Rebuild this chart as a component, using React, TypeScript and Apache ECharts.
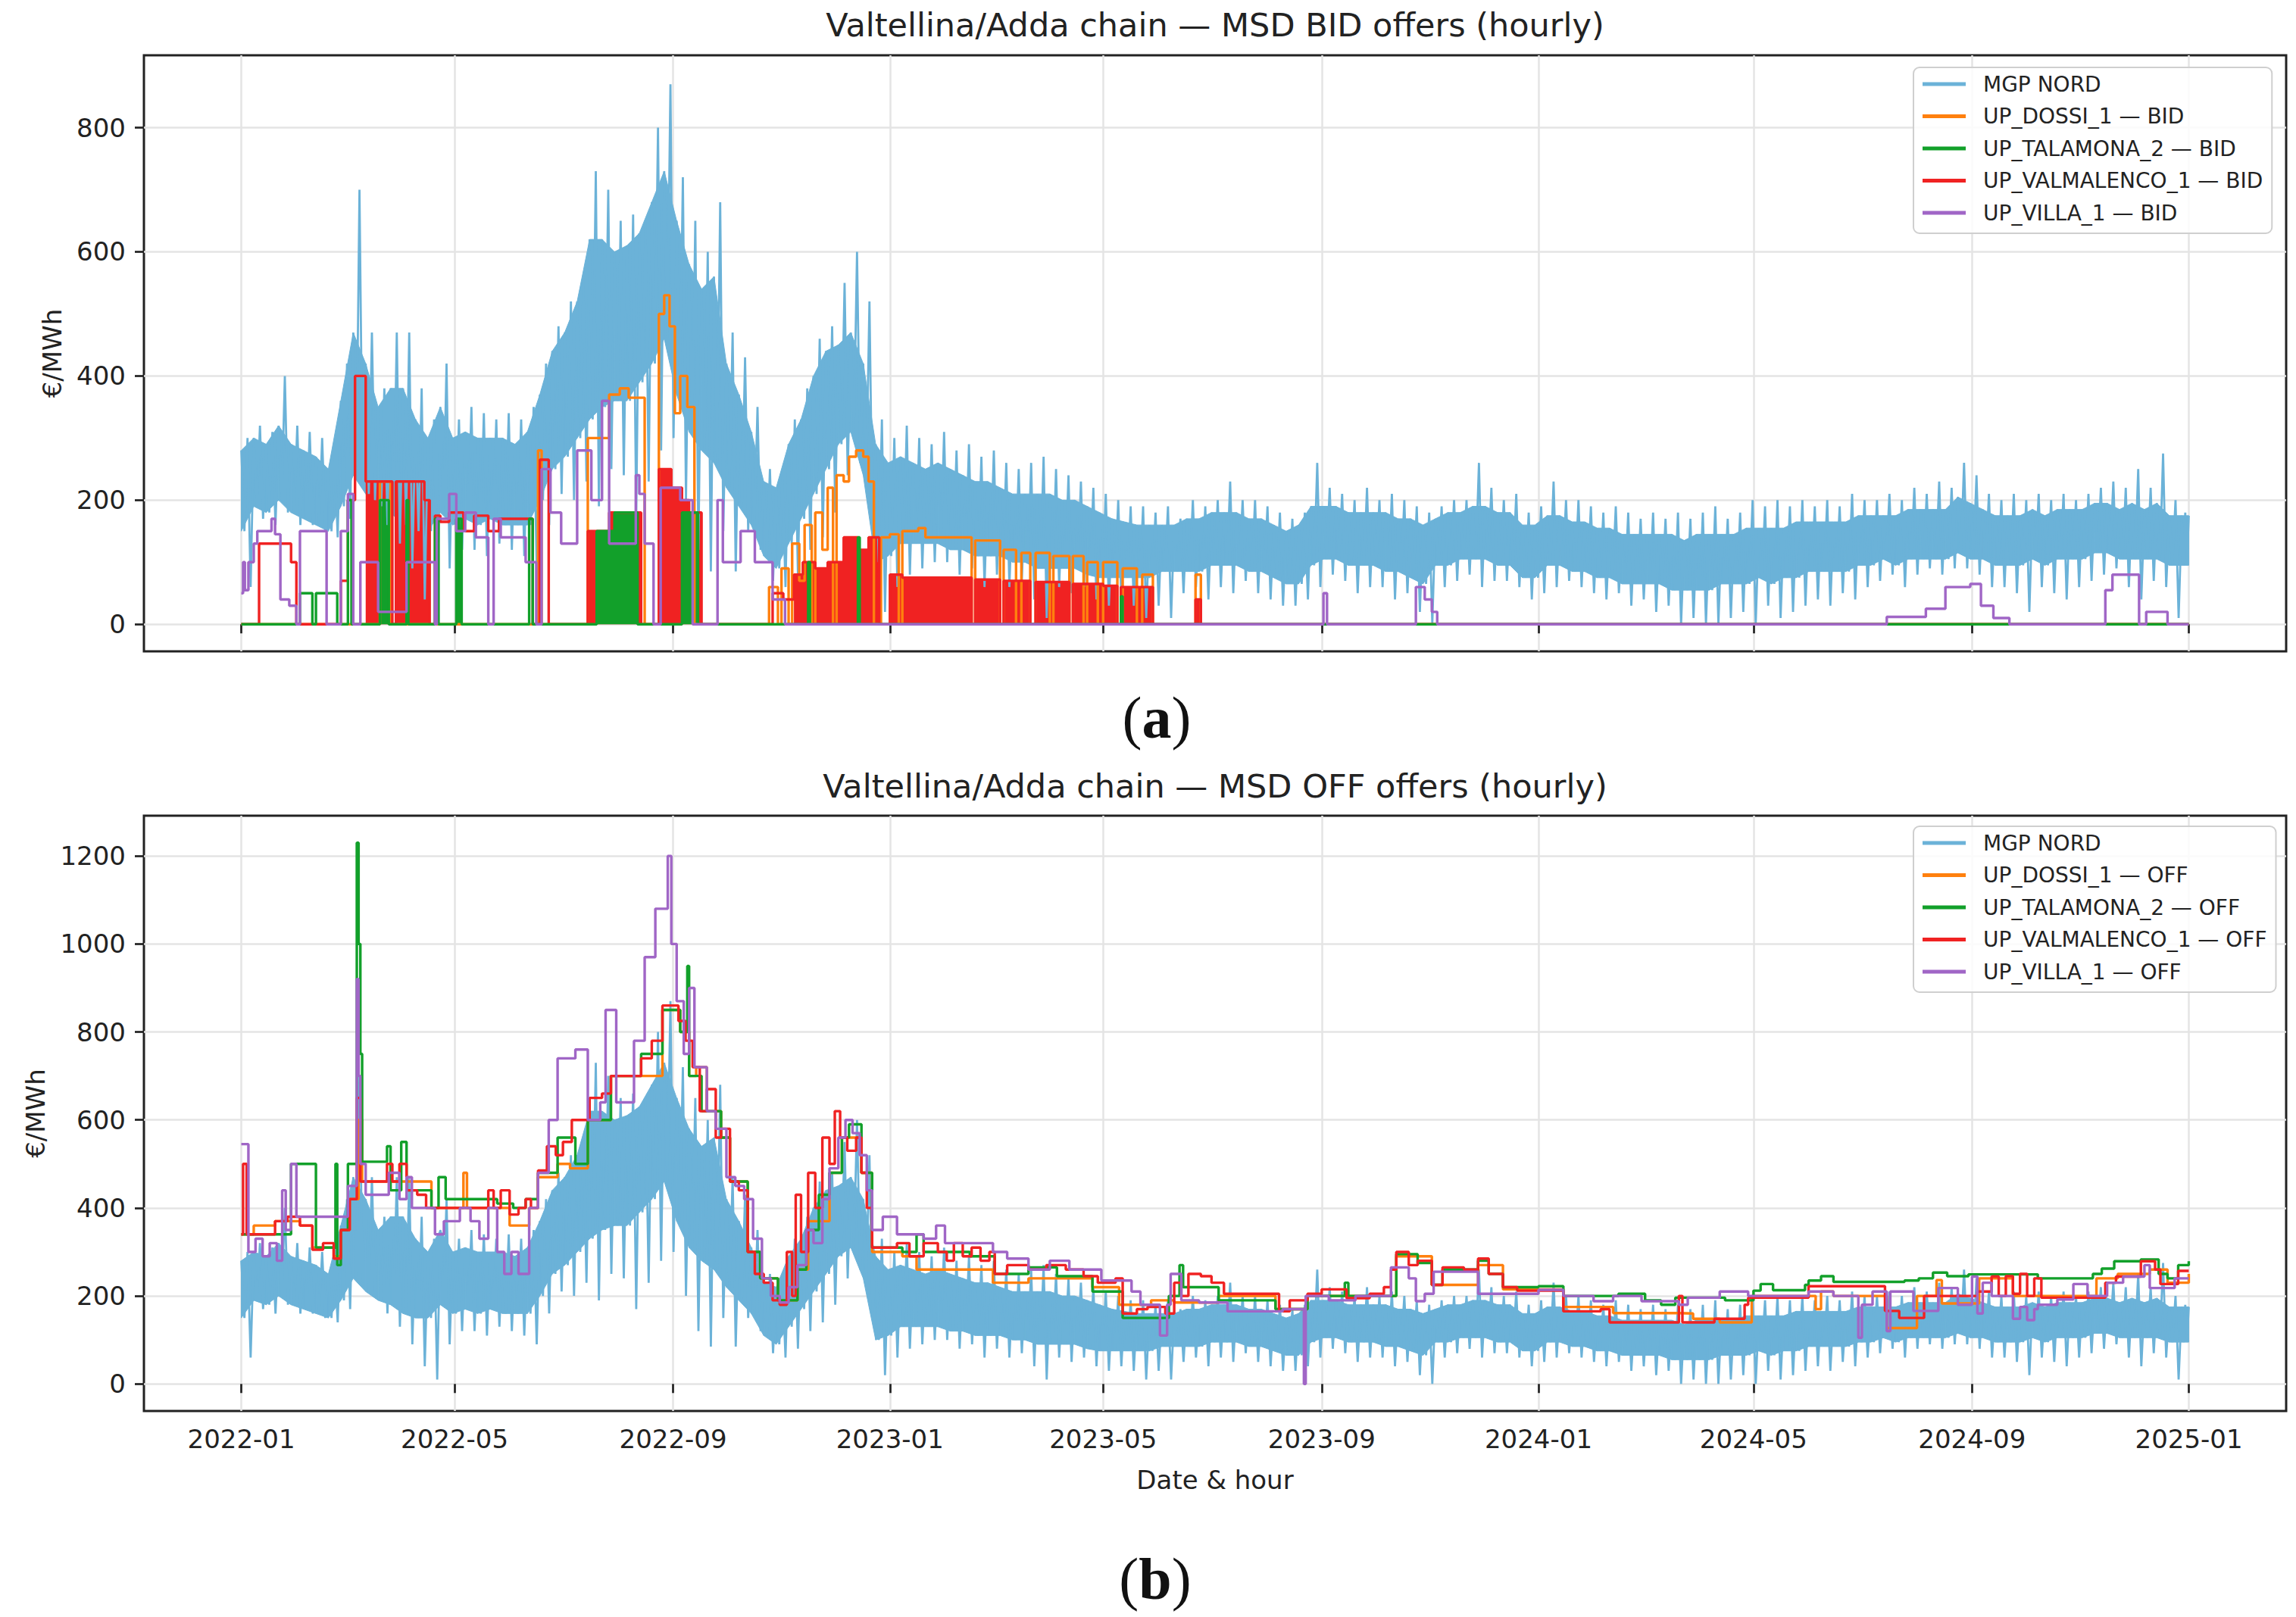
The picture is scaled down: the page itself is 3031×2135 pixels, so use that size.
import React, { useEffect, useRef } from 'react';
import * as echarts from 'echarts';

const DAY = 86400000;
const ts = (s: string) => Date.parse(s + 'T00:00:00Z');
const START = ts('2022-01-01');
const END = ts('2024-12-31') + 23 * 3600000;
const PAD = 54.8 * DAY;

// ---- tick labels ----
const xTickLabels = ['2022-01', '2022-05', '2022-09', '2023-01', '2023-05', '2023-09', '2024-01', '2024-05', '2024-09', '2025-01'];
const yTicksA = [0, 200, 400, 600, 800];
const yTicksB = [0, 200, 400, 600, 800, 1000, 1200];

// ---- MGP NORD, weekly readings starting 2022-01-01 (upper spikes, dense-band high, dense-band low, lower dips) ----
const mgpTop = [
  300, 320, 310, 400, 320, 310, 300, 270, 420, 700, 470, 380, 470, 470, 380, 330, 420, 330, 350, 340,
  330, 340, 330, 350, 420, 480, 520, 560, 730, 700, 650, 660, 650, 800, 870, 720, 650, 600, 680, 470,
  430, 350, 250, 240, 330, 380, 460, 480, 550, 600, 520, 330, 300,
  320, 300, 290, 310, 280, 290, 270, 280, 260, 250, 260, 270, 250, 240, 230, 220, 210, 200, 190, 190,
  180, 190, 170, 200, 190, 200, 230, 200, 200, 190, 180, 170, 180, 260, 220, 210, 200, 220, 200, 210,
  200, 190, 180, 190, 200, 200, 260, 220, 200, 210, 180, 190,
  230, 200, 200, 190, 180, 190, 180, 170, 180, 170, 180, 170, 180, 190, 170, 180, 200, 190, 200, 190,
  200, 190, 200, 190, 210, 200, 200, 210, 200, 220, 210, 230, 220, 260, 240, 210, 200, 210, 200, 210,
  200, 210, 200, 210, 220, 230, 220, 250, 220, 275, 200, 180,
];
const mgpHi = [
  280, 300, 290, 320, 290, 280, 270, 250, 360, 470, 420, 350, 380, 380, 330, 300, 350, 300, 310, 300,
  300, 300, 290, 310, 370, 440, 470, 520, 620, 620, 600, 610, 630, 680, 730, 650, 580, 540, 560, 420,
  370, 310, 230, 220, 290, 330, 400, 440, 450, 470, 420, 290, 260,
  270, 260, 250, 260, 250, 240, 230, 230, 220, 210, 210, 210, 210, 200, 200, 190, 180, 170, 165, 160,
  160, 160, 160, 170, 170, 180, 180, 180, 170, 170, 160, 150, 160, 190, 190, 190, 180, 180, 180, 180,
  170, 170, 160, 170, 180, 180, 190, 190, 180, 180, 160, 160,
  175, 175, 165, 165, 155, 155, 145, 145, 145, 145, 145, 135, 145, 145, 145, 145, 155, 155, 155, 155,
  165, 165, 165, 165, 165, 175, 175, 175, 175, 185, 185, 185, 185, 205, 195, 185, 175, 175, 175, 185,
  175, 185, 185, 185, 195, 195, 185, 195, 185, 195, 175, 175,
];
const mgpLo = [
  150, 190, 180, 200, 180, 170, 160, 150, 190, 240, 210, 190, 180, 160, 150, 150, 180, 160, 170, 160,
  170, 160, 160, 160, 200, 250, 270, 300, 330, 350, 360, 360, 390, 420, 460, 370, 310, 280, 260, 220,
  190, 160, 110, 90, 130, 170, 210, 250, 290, 310, 240, 100, 110,
  130, 130, 130, 130, 120, 120, 110, 110, 110, 100, 100, 90, 90, 90, 90, 80, 75, 75, 75, 75,
  75, 85, 85, 85, 85, 95, 95, 95, 85, 85, 75, 65, 65, 95, 105, 105, 95, 95, 95, 85,
  85, 75, 65, 95, 95, 105, 105, 105, 95, 95, 75, 75,
  95, 95, 85, 85, 75, 75, 65, 65, 65, 65, 55, 55, 55, 55, 65, 65, 65, 75, 65, 75,
  75, 85, 85, 85, 85, 95, 95, 105, 95, 105, 105, 105, 105, 115, 105, 105, 95, 95, 95, 105,
  95, 105, 105, 105, 115, 115, 105, 105, 105, 105, 95, 95,
];
const mgpBot = [
  60, 170, 160, 180, 160, 160, 150, 140, 170, 230, 200, 160, 130, 90, 40, 10, 90, 120, 120, 110,
  130, 120, 110, 90, 160, 210, 200, 230, 190, 250, 240, 170, 230, 280, 300, 200, 120, 85, 150, 85,
  150, 120, 70, 60, 80, 120, 140, 180, 240, 260, 150, 20, 60,
  80, 90, 100, 100, 80, 90, 60, 80, 60, 70, 40, 10, 60, 50, 60, 40, 30, 40, 30, 10,
  30, 10, 50, 60, 40, 60, 50, 70, 50, 40, 30, 30, 40, 60, 80, 70, 50, 60, 60, 40,
  50, 20, 0, 60, 70, 80, 60, 70, 70, 60, 40, 50,
  60, 70, 60, 50, 40, 50, 30, 40, 20, 30, 0, 10, 0, 0, 10, 20, 0, 30, 10, 20,
  30, 40, 30, 50, 40, 60, 70, 80, 60, 80, 90, 80, 90, 90, 80, 60, 60, 50, 20, 60,
  50, 40, 60, 70, 80, 90, 60, 40, 70, 60, 10, 100,
];

// ---- (a) BID offers: step change points [date, €/MWh] ----
const dossiBid: [string, number][] = [
  ['2022-01-01', 0], ['2022-03-20', 230], ['2022-03-26', 0], ['2022-06-17', 280], ['2022-06-19', 0],
  ['2022-07-15', 300], ['2022-07-27', 370], ['2022-08-02', 380], ['2022-08-07', 365], ['2022-08-16', 0],
  ['2022-08-24', 500], ['2022-08-27', 530], ['2022-08-30', 480], ['2022-09-02', 340], ['2022-09-05', 400],
  ['2022-09-09', 350], ['2022-09-13', 0],
  ['2022-10-25', 60], ['2022-10-30', 0], ['2022-11-01', 90], ['2022-11-05', 0], ['2022-11-07', 130],
  ['2022-11-11', 70], ['2022-11-14', 160], ['2022-11-18', 0], ['2022-11-20', 180], ['2022-11-24', 120],
  ['2022-11-27', 220], ['2022-11-30', 0], ['2022-12-02', 240], ['2022-12-06', 230], ['2022-12-09', 270],
  ['2022-12-13', 280], ['2022-12-17', 270], ['2022-12-20', 230], ['2022-12-23', 0], ['2022-12-27', 140],
  ['2023-01-01', 145], ['2023-01-06', 0], ['2023-01-08', 150], ['2023-01-17', 155], ['2023-01-21', 140],
  ['2023-02-16', 0], ['2023-02-18', 135], ['2023-03-04', 0], ['2023-03-06', 120], ['2023-03-13', 0],
  ['2023-03-16', 115], ['2023-03-21', 0], ['2023-03-24', 115], ['2023-04-01', 0], ['2023-04-03', 110],
  ['2023-04-12', 0], ['2023-04-14', 110], ['2023-04-20', 0], ['2023-04-22', 100], ['2023-04-28', 0],
  ['2023-05-01', 100], ['2023-05-09', 0], ['2023-05-12', 90], ['2023-05-20', 0], ['2023-05-23', 80],
  ['2023-05-29', 0], ['2023-06-22', 80], ['2023-06-25', 0], ['2024-12-31', 0],
];
const talaBid: [string, number][] = [
  ['2022-01-01', 0], ['2022-02-03', 50], ['2022-02-10', 0], ['2022-02-12', 50], ['2022-02-24', 0],
  ['2022-03-02', 200], ['2022-03-04', 0], ['2022-03-20', 200], ['2022-03-25', 0], ['2022-04-04', 200],
  ['2022-04-05', 0], ['2022-04-20', 170], ['2022-04-22', 0], ['2022-05-02', 170], ['2022-05-05', 0],
  ['2022-06-12', 170], ['2022-06-14', 0], ['2022-07-20', 150], ['2022-07-30', 180], ['2022-08-12', 0],
  ['2022-09-06', 180], ['2022-09-15', 0], ['2022-11-16', 100], ['2022-11-17', 0], ['2022-12-14', 140],
  ['2022-12-15', 0], ['2023-05-11', 45], ['2023-05-12', 0], ['2024-12-31', 0],
];
const talaBidFill: [string, string][] = [
  ['2022-03-20', '2022-03-25'], ['2022-05-02', '2022-05-05'], ['2022-07-20', '2022-08-12'], ['2022-09-06', '2022-09-15'],
];
const valmBid: [string, number][] = [
  ['2022-01-01', 0], ['2022-01-11', 130], ['2022-01-29', 100], ['2022-02-01', 0], ['2022-02-26', 70],
  ['2022-03-02', 200], ['2022-03-06', 400], ['2022-03-12', 230], ['2022-03-27', 0], ['2022-03-29', 230],
  ['2022-04-14', 200], ['2022-04-17', 0], ['2022-04-20', 175], ['2022-04-23', 165], ['2022-04-28', 180],
  ['2022-05-06', 150], ['2022-05-12', 175], ['2022-05-20', 150], ['2022-05-26', 170], ['2022-06-14', 0],
  ['2022-06-18', 265], ['2022-06-23', 0], ['2022-07-15', 150], ['2022-07-27', 180], ['2022-08-14', 0],
  ['2022-08-24', 250], ['2022-08-31', 220], ['2022-09-06', 200], ['2022-09-10', 180], ['2022-09-17', 0],
  ['2022-10-27', 50], ['2022-11-02', 40], ['2022-11-08', 80], ['2022-11-13', 100], ['2022-11-20', 90],
  ['2022-11-27', 100], ['2022-12-06', 140], ['2022-12-14', 120], ['2022-12-20', 140], ['2022-12-26', 0],
  ['2023-01-01', 80], ['2023-01-08', 75], ['2023-02-16', 0], ['2023-02-18', 72], ['2023-03-04', 0],
  ['2023-03-06', 70], ['2023-03-21', 0], ['2023-03-24', 68], ['2023-04-12', 0], ['2023-04-14', 65],
  ['2023-05-01', 62], ['2023-05-09', 0], ['2023-05-11', 60], ['2023-05-29', 0], ['2023-06-22', 40],
  ['2023-06-25', 0], ['2024-12-31', 0],
];
const valmBidFill: [string, string][] = [
  ['2022-03-12', '2022-04-17'], ['2022-07-15', '2022-08-14'], ['2022-08-24', '2022-09-17'],
  ['2022-11-08', '2022-12-26'], ['2023-01-01', '2023-05-29'], ['2023-06-22', '2023-06-25'],
];
const villaBid: [string, number][] = [
  ['2022-01-01', 50], ['2022-01-02', 100], ['2022-01-03', 55], ['2022-01-05', 100], ['2022-01-08', 130],
  ['2022-01-10', 150], ['2022-01-18', 170], ['2022-01-20', 145], ['2022-01-23', 40], ['2022-01-28', 30],
  ['2022-02-01', 0], ['2022-02-03', 150], ['2022-02-18', 0], ['2022-02-26', 150], ['2022-03-02', 210],
  ['2022-03-05', 0], ['2022-03-09', 100], ['2022-03-19', 20], ['2022-04-04', 100], ['2022-04-20', 0],
  ['2022-04-21', 170], ['2022-04-28', 210], ['2022-05-02', 150], ['2022-05-07', 180], ['2022-05-13', 140],
  ['2022-05-20', 0], ['2022-05-23', 170], ['2022-05-27', 140], ['2022-06-10', 100], ['2022-06-16', 0],
  ['2022-06-19', 250], ['2022-06-24', 180], ['2022-06-30', 130], ['2022-07-09', 280], ['2022-07-17', 200],
  ['2022-07-23', 360], ['2022-07-27', 130], ['2022-08-11', 240], ['2022-08-13', 210], ['2022-08-16', 130],
  ['2022-08-21', 0], ['2022-08-25', 220], ['2022-09-05', 200], ['2022-09-12', 0], ['2022-09-26', 200],
  ['2022-09-29', 100], ['2022-10-09', 150], ['2022-10-17', 100], ['2022-10-27', 40], ['2022-11-03', 0],
  ['2023-09-02', 50], ['2023-09-04', 0], ['2023-10-24', 60], ['2023-10-29', 40], ['2023-11-02', 20],
  ['2023-11-05', 0], ['2024-07-15', 12], ['2024-08-06', 25], ['2024-08-17', 60], ['2024-08-31', 65],
  ['2024-09-06', 30], ['2024-09-13', 10], ['2024-09-22', 0], ['2024-11-15', 55], ['2024-11-19', 80],
  ['2024-12-04', 0], ['2024-12-08', 20], ['2024-12-20', 0], ['2024-12-31', 0],
];

// ---- (b) OFF offers ----
const dossiOff: [string, number][] = [
  ['2022-01-01', 340], ['2022-01-08', 360], ['2022-01-20', 370], ['2022-02-03', 360], ['2022-02-10', 310],
  ['2022-02-22', 290], ['2022-02-26', 350], ['2022-03-03', 420], ['2022-03-08', 600], ['2022-03-10', 460],
  ['2022-04-18', 400], ['2022-05-06', 480], ['2022-05-08', 400], ['2022-06-01', 360], ['2022-06-12', 400],
  ['2022-06-17', 470], ['2022-06-28', 500], ['2022-07-05', 490], ['2022-07-15', 600], ['2022-07-28', 700],
  ['2022-08-26', 850], ['2022-09-05', 800], ['2022-09-10', 700], ['2022-09-14', 720], ['2022-09-20', 620],
  ['2022-09-28', 560], ['2022-10-03', 460], ['2022-10-13', 300], ['2022-10-20', 240], ['2022-10-30', 190],
  ['2022-11-10', 260], ['2022-11-16', 370], ['2022-11-28', 480], ['2022-12-05', 560], ['2022-12-16', 480],
  ['2022-12-22', 300], ['2023-01-08', 290], ['2023-01-16', 260], ['2023-02-28', 230], ['2023-03-20', 240],
  ['2023-04-25', 220], ['2023-05-10', 180], ['2023-05-28', 190], ['2023-06-10', 185], ['2023-07-05', 200],
  ['2023-08-06', 170], ['2023-08-24', 200], ['2023-09-20', 200], ['2023-10-13', 290], ['2023-11-02', 225],
  ['2023-11-28', 270], ['2023-12-12', 215], ['2024-01-15', 175], ['2024-02-12', 161], ['2024-03-20', 160],
  ['2024-03-28', 148], ['2024-04-12', 140], ['2024-04-30', 200], ['2024-06-05', 170], ['2024-06-08', 210],
  ['2024-06-15', 200], ['2024-07-15', 127], ['2024-08-01', 200], ['2024-08-12', 236], ['2024-08-15', 183],
  ['2024-09-05', 240], ['2024-09-24', 200], ['2024-11-10', 240], ['2024-11-22', 250], ['2024-12-10', 260],
  ['2024-12-20', 230], ['2024-12-31', 250],
];
const talaOff: [string, number][] = [
  ['2022-01-01', 340], ['2022-01-29', 500], ['2022-02-12', 310], ['2022-02-23', 500], ['2022-02-24', 270],
  ['2022-02-26', 350], ['2022-03-02', 500], ['2022-03-07', 1230], ['2022-03-08', 1000], ['2022-03-09', 750],
  ['2022-03-10', 505], ['2022-03-24', 540], ['2022-03-26', 440], ['2022-04-01', 550], ['2022-04-04', 440],
  ['2022-04-18', 400], ['2022-04-22', 470], ['2022-04-26', 420], ['2022-05-25', 410], ['2022-06-03', 400],
  ['2022-06-10', 420], ['2022-06-17', 480], ['2022-06-28', 560], ['2022-07-08', 500], ['2022-07-15', 600],
  ['2022-07-28', 700], ['2022-08-14', 750], ['2022-08-26', 850], ['2022-09-05', 800], ['2022-09-09', 950],
  ['2022-09-10', 700], ['2022-09-17', 620], ['2022-09-28', 560], ['2022-10-03', 460], ['2022-10-13', 300],
  ['2022-10-20', 240], ['2022-10-30', 190], ['2022-11-10', 260], ['2022-11-15', 350], ['2022-11-22', 430],
  ['2022-11-28', 480], ['2022-12-05', 560], ['2022-12-09', 590], ['2022-12-16', 480], ['2022-12-22', 310],
  ['2023-01-08', 300], ['2023-01-16', 340], ['2023-01-20', 300], ['2023-02-15', 290], ['2023-03-01', 250],
  ['2023-03-20', 265], ['2023-04-05', 245], ['2023-04-25', 210], ['2023-05-12', 150], ['2023-06-07', 200],
  ['2023-06-13', 270], ['2023-06-15', 220], ['2023-07-05', 190], ['2023-08-06', 170], ['2023-08-24', 200],
  ['2023-09-14', 230], ['2023-09-16', 200], ['2023-10-13', 295], ['2023-10-25', 275], ['2023-11-02', 225],
  ['2023-11-08', 260], ['2023-11-28', 280], ['2023-12-04', 250], ['2023-12-12', 220], ['2024-01-01', 222],
  ['2024-01-15', 200], ['2024-02-15', 205], ['2024-03-01', 190], ['2024-03-10', 180], ['2024-03-18', 196],
  ['2024-04-15', 190], ['2024-05-01', 212], ['2024-05-05', 227], ['2024-05-12', 213], ['2024-05-30', 225],
  ['2024-06-01', 235], ['2024-06-08', 245], ['2024-06-15', 232], ['2024-07-25', 235], ['2024-08-02', 240],
  ['2024-08-10', 253], ['2024-08-18', 245], ['2024-08-30', 249], ['2024-10-08', 240], ['2024-11-08', 250],
  ['2024-11-13', 262], ['2024-11-20', 279], ['2024-12-05', 283], ['2024-12-15', 250], ['2024-12-20', 240],
  ['2024-12-26', 270], ['2024-12-31', 279],
];
const valmOff: [string, number][] = [
  ['2022-01-01', 340], ['2022-01-02', 500], ['2022-01-04', 340], ['2022-01-20', 370], ['2022-01-27', 380],
  ['2022-02-03', 360], ['2022-02-10', 305], ['2022-02-16', 320], ['2022-02-22', 285], ['2022-02-26', 350],
  ['2022-03-03', 420], ['2022-03-07', 650], ['2022-03-09', 460], ['2022-03-24', 500], ['2022-03-27', 460],
  ['2022-03-31', 500], ['2022-04-04', 440], ['2022-04-10', 430], ['2022-04-15', 400], ['2022-05-20', 440],
  ['2022-05-23', 400], ['2022-05-27', 440], ['2022-06-01', 385], ['2022-06-06', 400], ['2022-06-10', 420],
  ['2022-06-13', 400], ['2022-06-17', 485], ['2022-06-22', 540], ['2022-06-27', 520], ['2022-07-01', 550],
  ['2022-07-06', 600], ['2022-07-16', 650], ['2022-07-23', 660], ['2022-07-28', 700], ['2022-08-08', 700],
  ['2022-08-14', 740], ['2022-08-20', 780], ['2022-08-26', 860], ['2022-09-01', 860], ['2022-09-04', 825],
  ['2022-09-08', 780], ['2022-09-12', 720], ['2022-09-16', 620], ['2022-09-20', 670], ['2022-09-25', 560],
  ['2022-09-28', 580], ['2022-10-03', 460], ['2022-10-08', 440], ['2022-10-13', 300], ['2022-10-17', 250],
  ['2022-10-22', 230], ['2022-10-27', 190], ['2022-10-31', 180], ['2022-11-04', 300], ['2022-11-07', 200],
  ['2022-11-09', 430], ['2022-11-12', 300], ['2022-11-16', 480], ['2022-11-20', 400], ['2022-11-24', 560],
  ['2022-11-28', 500], ['2022-12-01', 620], ['2022-12-04', 560], ['2022-12-08', 530], ['2022-12-13', 560],
  ['2022-12-16', 480], ['2022-12-19', 400], ['2022-12-22', 310], ['2023-01-05', 320], ['2023-01-12', 290],
  ['2023-01-20', 320], ['2023-01-28', 300], ['2023-02-02', 280], ['2023-02-06', 320], ['2023-02-11', 290],
  ['2023-02-16', 310], ['2023-02-21', 280], ['2023-02-26', 300], ['2023-03-01', 250], ['2023-03-08', 270],
  ['2023-03-20', 260], ['2023-03-30', 270], ['2023-04-10', 260], ['2023-04-20', 245], ['2023-04-28', 230],
  ['2023-05-08', 240], ['2023-05-12', 160], ['2023-05-20', 170], ['2023-05-26', 175], ['2023-06-05', 160],
  ['2023-06-10', 230], ['2023-06-14', 200], ['2023-06-18', 250], ['2023-06-25', 245], ['2023-07-01', 230],
  ['2023-07-08', 205], ['2023-08-08', 165], ['2023-08-14', 190], ['2023-08-24', 205], ['2023-09-01', 215],
  ['2023-09-15', 195], ['2023-09-28', 205], ['2023-10-06', 220], ['2023-10-10', 260], ['2023-10-13', 300],
  ['2023-10-20', 270], ['2023-10-25', 280], ['2023-11-02', 225], ['2023-11-08', 265], ['2023-11-20', 260],
  ['2023-11-28', 285], ['2023-12-04', 250], ['2023-12-12', 220], ['2023-12-20', 212], ['2024-01-15', 165],
  ['2024-02-05', 170], ['2024-02-10', 140], ['2024-03-20', 200], ['2024-03-22', 140], ['2024-04-09', 148],
  ['2024-04-26', 180], ['2024-04-28', 196], ['2024-06-01', 222], ['2024-07-14', 166], ['2024-07-22', 150],
  ['2024-08-05', 200], ['2024-09-04', 210], ['2024-09-12', 244], ['2024-09-16', 200], ['2024-09-20', 245],
  ['2024-09-24', 205], ['2024-09-28', 250], ['2024-10-02', 200], ['2024-10-06', 240], ['2024-10-10', 196],
  ['2024-11-15', 230], ['2024-11-21', 244], ['2024-12-05', 279], ['2024-12-13', 260], ['2024-12-16', 227],
  ['2024-12-26', 257], ['2024-12-31', 257],
];
const villaOff: [string, number][] = [
  ['2022-01-01', 545], ['2022-01-05', 300], ['2022-01-09', 330], ['2022-01-13', 290], ['2022-01-17', 320],
  ['2022-01-21', 280], ['2022-01-24', 440], ['2022-01-26', 350], ['2022-01-29', 500], ['2022-02-01', 380],
  ['2022-03-02', 450], ['2022-03-07', 920], ['2022-03-08', 700], ['2022-03-09', 500], ['2022-03-12', 430],
  ['2022-03-25', 480], ['2022-03-31', 420], ['2022-04-04', 470], ['2022-04-07', 400], ['2022-04-20', 340],
  ['2022-04-25', 370], ['2022-05-04', 400], ['2022-05-10', 370], ['2022-05-15', 330], ['2022-05-20', 400],
  ['2022-05-25', 300], ['2022-05-29', 250], ['2022-06-02', 300], ['2022-06-06', 250], ['2022-06-12', 400],
  ['2022-06-17', 480], ['2022-06-23', 600], ['2022-06-28', 740], ['2022-07-08', 760], ['2022-07-15', 600],
  ['2022-07-22', 640], ['2022-07-25', 850], ['2022-07-31', 640], ['2022-08-10', 780], ['2022-08-16', 970],
  ['2022-08-22', 1080], ['2022-08-29', 1200], ['2022-08-31', 1000], ['2022-09-03', 870], ['2022-09-07', 750],
  ['2022-09-10', 900], ['2022-09-13', 720], ['2022-09-20', 620], ['2022-09-25', 580], ['2022-10-01', 470],
  ['2022-10-06', 450], ['2022-10-11', 420], ['2022-10-16', 330], ['2022-10-21', 240], ['2022-10-26', 200],
  ['2022-10-31', 185], ['2022-11-05', 220], ['2022-11-10', 270], ['2022-11-15', 350], ['2022-11-19', 320],
  ['2022-11-24', 420], ['2022-11-28', 490], ['2022-12-03', 560], ['2022-12-07', 600], ['2022-12-11', 570],
  ['2022-12-15', 520], ['2022-12-19', 440], ['2022-12-22', 350], ['2022-12-28', 380], ['2023-01-05', 340],
  ['2023-01-20', 330], ['2023-01-27', 360], ['2023-02-01', 320], ['2023-02-28', 300], ['2023-03-08', 285],
  ['2023-03-20', 260], ['2023-04-01', 280], ['2023-04-12', 260], ['2023-04-30', 235], ['2023-05-17', 210],
  ['2023-05-22', 180], ['2023-06-02', 110], ['2023-06-06', 180], ['2023-06-08', 250], ['2023-06-14', 190],
  ['2023-06-24', 185], ['2023-07-10', 165], ['2023-08-10', 170], ['2023-08-22', 0], ['2023-08-23', 200],
  ['2023-09-05', 190], ['2023-09-20', 200], ['2023-10-10', 265], ['2023-10-20', 240], ['2023-10-24', 188],
  ['2023-10-29', 205], ['2023-11-03', 255], ['2023-11-28', 205], ['2024-01-01', 214], ['2024-01-15', 200],
  ['2024-02-01', 188], ['2024-02-12', 200], ['2024-02-28', 188], ['2024-03-20', 180], ['2024-03-25', 196],
  ['2024-04-12', 210], ['2024-04-28', 200], ['2024-06-01', 210], ['2024-06-15', 200], ['2024-06-29', 105],
  ['2024-07-01', 180], ['2024-07-07', 210], ['2024-07-15', 120], ['2024-07-17', 210], ['2024-07-30', 166],
  ['2024-08-13', 218], ['2024-08-24', 180], ['2024-09-01', 244], ['2024-09-04', 160], ['2024-09-07', 230],
  ['2024-09-12', 200], ['2024-09-24', 148], ['2024-09-28', 175], ['2024-10-02', 145], ['2024-10-06', 170],
  ['2024-10-08', 180], ['2024-10-19', 192], ['2024-10-28', 227], ['2024-11-05', 200], ['2024-11-16', 230],
  ['2024-11-25', 244], ['2024-12-07', 270], ['2024-12-10', 218], ['2024-12-24', 240], ['2024-12-31', 240],
];

// ---- names & colours ----
const MGP = 'MGP NORD';
const unitsA = ['UP_DOSSI_1 — BID', 'UP_TALAMONA_2 — BID', 'UP_VALMALENCO_1 — BID', 'UP_VILLA_1 — BID'];
const unitsB = ['UP_DOSSI_1 — OFF', 'UP_TALAMONA_2 — OFF', 'UP_VALMALENCO_1 — OFF', 'UP_VILLA_1 — OFF'];
const C_MGP = '#6bb2d8';
const C_ORANGE = '#ff800e';
const C_GREEN = '#12a02a';
const C_RED = '#f02222';
const C_PURPLE = '#a066c6';

const FONT = 'DejaVu Sans';
const INK = '#222222';

function toPts(p: [string, number][]) {
  return p.map(([d, v]) => [d === '2024-12-31' ? END : ts(d), v]);
}
function valueAt(p: [string, number][], t: number) {
  let v = 0;
  for (const [d, y] of p) { if (ts(d) <= t) v = y; }
  return v;
}
function fillFrom(p: [string, number][], spans: [string, string][]) {
  const out: any[] = [[START, 0]];
  for (const [a, b] of spans) {
    const ta = ts(a), tb = ts(b);
    out.push([ta, valueAt(p, ta)]);
    for (const [d, y] of p) { const t = ts(d); if (t > ta && t < tb) out.push([t, y]); }
    out.push([tb, 0]);
  }
  out.push([END, 0]);
  return out;
}
function mgpZigzag() {
  const out: any[] = [];
  for (let k = 0; k < mgpTop.length; k++) {
    const t0 = START + 7 * k * DAY;
    const q = Math.min(7 * DAY, END - t0) / 4;
    out.push([t0, mgpHi[k]], [t0 + q, mgpLo[k]], [t0 + 2 * q, mgpTop[k]], [t0 + 3 * q, mgpBot[k]]);
  }
  out.push([END, mgpHi[mgpHi.length - 1]]);
  return out;
}
function bandData() {
  const out: any[] = mgpHi.map((h, k) => [START + 7 * k * DAY, mgpLo[k], h]);
  out.push([END, mgpLo[mgpLo.length - 1], mgpHi[mgpHi.length - 1]]);
  return out;
}
const tickTs = xTickLabels.map((s) => ts(s + '-01'));
const fmtMonth = (v: number) => {
  const d = new Date(v);
  return d.getUTCFullYear() + '-' + String(d.getUTCMonth() + 1).padStart(2, '0');
};

function lineSeries(name: string, data: any[], color: string, gi: number, width: number, extra: any = {}) {
  return {
    type: 'line', name, data, xAxisIndex: gi, yAxisIndex: gi, step: 'end', symbol: 'none', showSymbol: false,
    silent: true, color, itemStyle: { color }, lineStyle: { color, width }, ...extra,
  };
}
function mgpSeries(gi: number) {
  const band = bandData();
  return [
    {
      type: 'custom', name: 'mgp-band-' + gi, xAxisIndex: gi, yAxisIndex: gi, silent: true, clip: true,
      data: band, encode: { x: 0, y: [1, 2] },
      renderItem: (params: any, api: any) => {
        const i = params.dataIndex;
        if (i >= band.length - 1) return null;
        const a = band[i], b = band[i + 1];
        const pts = [api.coord([a[0], a[1]]), api.coord([a[0], a[2]]), api.coord([b[0], b[2]]), api.coord([b[0], b[1]])];
        return { type: 'polygon', shape: { points: pts }, style: { fill: C_MGP, stroke: C_MGP, lineWidth: 1 } };
      },
    },
    { type: 'line', name: MGP, data: mgpZigzag(), xAxisIndex: gi, yAxisIndex: gi, symbol: 'none', showSymbol: false,
      silent: true, color: C_MGP, itemStyle: { color: C_MGP }, lineStyle: { color: C_MGP, width: 2.8 } },
  ];
}

function xAxisCfg(gi: number) {
  return {
    type: 'value', gridIndex: gi, min: START - PAD, max: END + PAD, scale: true,
    axisLine: { show: false },
    axisTick: { show: true, length: 12, inside: false, lineStyle: { color: INK, width: 2.7 }, customValues: tickTs },
    axisLabel: { show: gi === 1, customValues: tickTs, formatter: fmtMonth, fontSize: 34, color: INK, fontFamily: FONT, margin: 20, hideOverlap: false },
    splitLine: { show: true, lineStyle: { color: '#e4e4e4', width: 2.5 } },
    name: gi === 1 ? 'Date & hour' : '', nameLocation: 'middle', nameGap: 74,
    nameTextStyle: { fontSize: 34, color: INK, fontFamily: FONT },
  };
}
function yAxisCfg(gi: number, min: number, max: number, ticks: number[], gap: number) {
  return {
    type: 'value', gridIndex: gi, min, max,
    axisLine: { show: false },
    axisTick: { show: true, length: 12, lineStyle: { color: INK, width: 2.7 }, customValues: ticks },
    axisLabel: { customValues: ticks, formatter: (v: number) => String(v), fontSize: 34, color: INK, fontFamily: FONT, margin: 24 },
    splitLine: { show: true, lineStyle: { color: '#e4e4e4', width: 2.5 } },
    name: '€/MWh', nameLocation: 'middle', nameGap: gap, nameRotate: 90,
    nameTextStyle: { fontSize: 34, color: INK, fontFamily: FONT },
  };
}
function legendCfg(top: number, names: string[]) {
  return {
    orient: 'vertical', left: 2526, top, data: names, icon: 'rect', itemWidth: 57, itemHeight: 5, itemGap: 8.5,
    padding: [5, 12, 10, 12], backgroundColor: 'rgba(255,255,255,0.85)', borderColor: '#cfcfcf', borderWidth: 2,
    borderRadius: 8, selectedMode: false,
    textStyle: { fontSize: 28, color: INK, fontFamily: FONT, lineHeight: 34, padding: [0, 0, 0, 18] },
  };
}

function buildOption() {
  const seriesA = [
    ...mgpSeries(0),
    lineSeries(unitsA[0], toPts(dossiBid), C_ORANGE, 0, 3.4),
    lineSeries(unitsA[2], toPts(valmBid), C_RED, 0, 3.4),
    lineSeries(unitsA[2], fillFrom(valmBid, valmBidFill), C_RED, 0, 0, { areaStyle: { color: C_RED, opacity: 1 }, lineStyle: { width: 0, color: C_RED } }),
    lineSeries(unitsA[1], toPts(talaBid), C_GREEN, 0, 3.4),
    lineSeries(unitsA[1], fillFrom(talaBid, talaBidFill), C_GREEN, 0, 0, { areaStyle: { color: C_GREEN, opacity: 1 }, lineStyle: { width: 0, color: C_GREEN } }),
    lineSeries(unitsA[3], toPts(villaBid), C_PURPLE, 0, 3.4),
  ];
  const seriesB = [
    ...mgpSeries(1),
    lineSeries(unitsB[0], toPts(dossiOff), C_ORANGE, 1, 3.4),
    lineSeries(unitsB[1], toPts(talaOff), C_GREEN, 1, 3.4),
    lineSeries(unitsB[2], toPts(valmOff), C_RED, 1, 3.4),
    lineSeries(unitsB[3], toPts(villaOff), C_PURPLE, 1, 3.4),
  ];
  const titleStyle = { fontSize: 43, fontWeight: 'normal', color: INK, fontFamily: FONT };
  return {
    animation: false,
    backgroundColor: '#ffffff',
    textStyle: { fontFamily: FONT },
    title: [
      { text: 'Valtellina/Adda chain — MSD BID offers (hourly)', left: 1604, top: 11, textAlign: 'center', padding: 0, textStyle: titleStyle },
      { text: 'Valtellina/Adda chain — MSD OFF offers (hourly)', left: 1604, top: 1016, textAlign: 'center', padding: 0, textStyle: titleStyle },
    ],
    legend: [legendCfg(89, [MGP, ...unitsA]), legendCfg(1091, [MGP, ...unitsB])],
    grid: [
      { left: 190, top: 73, width: 2828, height: 787, show: true, borderColor: INK, borderWidth: 3, backgroundColor: 'transparent', containLabel: false },
      { left: 190, top: 1077, width: 2828, height: 786, show: true, borderColor: INK, borderWidth: 3, backgroundColor: 'transparent', containLabel: false },
    ],
    xAxis: [xAxisCfg(0), xAxisCfg(1)],
    yAxis: [yAxisCfg(0, -43.6, 916.6, yTicksA, 104), yAxisCfg(1, -61.5, 1291.5, yTicksB, 126)],
    series: [...seriesA, ...seriesB],
    graphic: [
      { type: 'text', x: 1527, y: 947, silent: true,
        style: { text: '{p|(}{b|a}{p|)}', align: 'center', verticalAlign: 'middle',
          rich: { p: { fontSize: 78, fontFamily: 'Liberation Serif', fill: '#111' }, b: { fontSize: 78, fontFamily: 'Liberation Serif', fontWeight: 'bold', fill: '#111' } } } },
      { type: 'text', x: 1525, y: 2084, silent: true,
        style: { text: '{p|(}{b|b}{p|)}', align: 'center', verticalAlign: 'middle',
          rich: { p: { fontSize: 78, fontFamily: 'Liberation Serif', fill: '#111' }, b: { fontSize: 78, fontFamily: 'Liberation Serif', fontWeight: 'bold', fill: '#111' } } } },
    ],
  };
}

export default function App() {
  const ref = useRef<HTMLDivElement>(null);
  useEffect(() => {
    if (!ref.current) return;
    const chart = echarts.init(ref.current, null, { renderer: 'svg' });
    chart.setOption(buildOption() as any);
    return () => chart.dispose();
  }, []);
  return (
    <div
      ref={ref}
      style={{ position: 'absolute', left: 0, top: 0, width: 3031, height: 2135, background: '#ffffff' }}
    />
  );
}
